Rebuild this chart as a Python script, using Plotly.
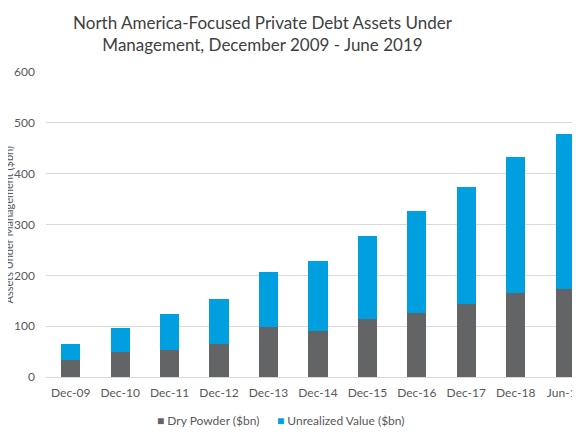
import plotly.graph_objects as go

categories = ["Dec-09", "Dec-10", "Dec-11", "Dec-12", "Dec-13", "Dec-14",
              "Dec-15", "Dec-16", "Dec-17", "Dec-18", "Jun-19"]
dry_powder = [33, 49, 53, 65, 98, 90, 114, 126, 144, 166, 173]
unrealized_value = [31.5, 47, 71, 88, 108, 138, 163, 201, 230, 266, 305]
y_ticks = [0, 100, 200, 300, 400, 500, 600]

FONT = "Lato"
TXT = "#595959"
C_DRY = "#636466"
C_UNR = "#009FDF"

# page body has an 8px margin; figure coordinates below are window - 8
W, H = 572, 427
L, T, B = 38, 64, 58
PW = W - L
PH = H - T - B


def px_x(px):
    return (px - L) / PW


def px_y(py):
    return (H - B - py) / PH


fig = go.Figure()
fig.add_trace(go.Bar(x=categories, y=dry_powder, name="Dry Powder ($bn)",
                     marker=dict(color=C_DRY, line=dict(width=0)), showlegend=False))
fig.add_trace(go.Bar(x=categories, y=unrealized_value, name="Unrealized Value ($bn)",
                     marker=dict(color=C_UNR, line=dict(width=0)), showlegend=False))

fig.update_layout(
    width=W, height=H,
    barmode="stack", bargap=0.61,
    paper_bgcolor="white", plot_bgcolor="white",
    margin=dict(l=L, r=0, t=T, b=B, autoexpand=False),
    font=dict(family=FONT, size=12, color=TXT),
    title=dict(text="North America-Focused Private Debt Assets Under<br>Management, December 2009 - June 2019",
               x=254.5 / W, xref="container", xanchor="center",
               y=1 - 21 / H, yref="container", yanchor="middle",
               font=dict(family=FONT, size=17, color="#404040")),
    showlegend=False,
    xaxis=dict(range=[-0.5, 10.3], showgrid=False, showline=True, automargin=False,
               linecolor="#D9D9D9", linewidth=1, ticks="", ticklabelstandoff=5,
               tickfont=dict(family=FONT, size=12, color=TXT)),
    yaxis=dict(range=[0, 600], tickvals=y_ticks, showgrid=True, automargin=False,
               gridcolor="#D9D9D9", gridwidth=1, zeroline=False,
               showline=False, ticks="", ticklabelstandoff=10,
               tickfont=dict(family=FONT, size=12, color=TXT)),
    annotations=[
        dict(text="Assets Under Management ($bn)", textangle=-90,
             xref="paper", yref="paper", x=px_x(0), y=0.5,
             xanchor="center", yanchor="middle", showarrow=False,
             font=dict(family=FONT, size=11, color=TXT)),
        dict(text=f"<span style='color:{C_DRY}'>■</span> Dry Powder ($bn)",
             xref="paper", yref="paper", x=px_x(147), y=px_y(412),
             xanchor="left", yanchor="middle", showarrow=False,
             font=dict(family=FONT, size=12, color=TXT)),
        dict(text=f"<span style='color:{C_UNR}'>■</span> Unrealized Value ($bn)",
             xref="paper", yref="paper", x=px_x(267), y=px_y(412),
             xanchor="left", yanchor="middle", showarrow=False,
             font=dict(family=FONT, size=12, color=TXT)),
    ],
)

fig.write_html("out.html")
